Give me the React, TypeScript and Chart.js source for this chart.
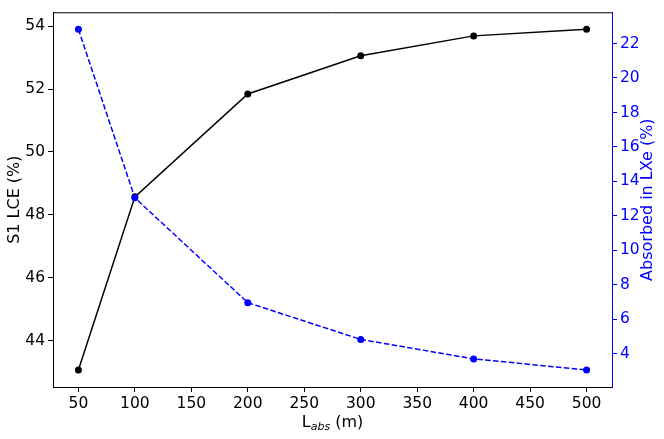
import { useEffect, useRef } from 'react';
import { Chart, registerables } from 'chart.js';

Chart.register(...registerables);

// absorption length in metres
const lengths = [50, 100, 200, 300, 400, 500];
// S1 light collection efficiency (%)
const lceValues = [43.06, 48.57, 51.84, 53.06, 53.69, 53.9];
// fraction absorbed in LXe (%)
const absorbedValues = [22.82, 13.05, 6.97, 4.84, 3.71, 3.07];

const xTicks = [50, 100, 150, 200, 250, 300, 350, 400, 450, 500];
const leftTicks = [44, 46, 48, 50, 52, 54];
const rightTicks = [4, 6, 8, 10, 12, 14, 16, 18, 20, 22];

const FONT = 'DejaVu Sans';
const BLUE = '#0000ff';
const TICK_SIZE = 15.5;
const TITLE_SIZE = 16;

// matplotlib-like axis labels (x label has a subscript) and the top spine
const axisTitles = {
  id: 'axisTitles',
  afterDraw(chart: Chart) {
    const { ctx, chartArea } = chart;
    const midY = (chartArea.top + chartArea.bottom) / 2;
    ctx.save();

    ctx.strokeStyle = '#000';
    ctx.lineWidth = 1;
    ctx.beginPath();
    ctx.moveTo(chartArea.left, chartArea.top + 0.5);
    ctx.lineTo(chartArea.right, chartArea.top + 0.5);
    ctx.stroke();

    ctx.textBaseline = 'middle';
    ctx.textAlign = 'center';

    // left title
    ctx.save();
    ctx.translate(15, midY);
    ctx.rotate(-Math.PI / 2);
    ctx.fillStyle = '#000';
    ctx.font = `${TITLE_SIZE}px "${FONT}"`;
    ctx.fillText('S1 LCE (%)', 0, 0);
    ctx.restore();

    // right title
    ctx.save();
    ctx.translate(648, midY);
    ctx.rotate(-Math.PI / 2);
    ctx.fillStyle = BLUE;
    ctx.font = `${TITLE_SIZE}px "${FONT}"`;
    ctx.fillText('Absorbed in LXe (%)', 0, 0);
    ctx.restore();

    // x title: L_abs (m)
    ctx.fillStyle = '#000';
    ctx.textAlign = 'left';
    ctx.textBaseline = 'alphabetic';
    const big = `${TITLE_SIZE}px "${FONT}"`;
    const small = `italic 11px "${FONT}"`;
    ctx.font = big;
    const wL = ctx.measureText('L').width;
    const wM = ctx.measureText(' (m)').width;
    ctx.font = small;
    const wS = ctx.measureText('abs').width;
    const total = wL + wS + wM;
    const cx = (chartArea.left + chartArea.right) / 2;
    let x = cx - total / 2;
    const base = 427;
    ctx.font = big;
    ctx.fillText('L', x, base);
    x += wL;
    ctx.font = small;
    ctx.fillText('abs', x, base + 3);
    x += wS;
    ctx.font = big;
    ctx.fillText(' (m)', x, base);

    ctx.restore();
  },
};

const App = () => {
  const canvasRef = useRef<HTMLCanvasElement>(null);
  const chartInstance = useRef<Chart | null>(null);

  useEffect(() => {
    document.body.style.margin = '0';
    if (!canvasRef.current) return;
    if (chartInstance.current) chartInstance.current.destroy();

    const ctx = canvasRef.current.getContext('2d');
    if (!ctx) return;

    chartInstance.current = new Chart(ctx, {
      type: 'line',
      data: {
        datasets: [
          {
            label: 'S1 LCE',
            data: lengths.map((l, i) => ({ x: l, y: lceValues[i] })),
            yAxisID: 'y',
            borderColor: '#000',
            backgroundColor: '#000',
            borderWidth: 1.5,
            pointRadius: 3.5,
            pointBorderWidth: 0,
            tension: 0,
            order: 2,
          },
          {
            label: 'Absorbed in LXe',
            data: lengths.map((l, i) => ({ x: l, y: absorbedValues[i] })),
            yAxisID: 'y1',
            borderColor: BLUE,
            backgroundColor: BLUE,
            borderWidth: 1.5,
            borderDash: [5.5, 2.4],
            pointRadius: 3.5,
            pointBorderWidth: 0,
            tension: 0,
            order: 1,
          },
        ],
      },
      options: {
        responsive: false,
        animation: false,
        devicePixelRatio: 1,
        layout: { padding: { top: 7, left: 0, right: 0, bottom: 0 } },
        plugins: {
          legend: { display: false },
          tooltip: { enabled: false },
        },
        scales: {
          x: {
            type: 'linear',
            min: 27.5,
            max: 522.5,
            afterBuildTicks: (scale) => {
              scale.ticks = xTicks.map((v) => ({ value: v }));
            },
            afterFit: (scale) => {
              scale.height = 52;
            },
            grid: { drawOnChartArea: false, drawTicks: true, tickLength: 5, color: '#000', tickWidth: 1 },
            border: { display: true, color: '#000', width: 1 },
            ticks: {
              color: '#000',
              font: { family: FONT, size: TICK_SIZE },
              padding: 3,
              maxRotation: 0,
            },
          },
          y: {
            type: 'linear',
            position: 'left',
            min: 42.52,
            max: 54.44,
            afterBuildTicks: (scale) => {
              scale.ticks = leftTicks.map((v) => ({ value: v }));
            },
            afterFit: (scale) => {
              scale.width = 53;
            },
            grid: { drawOnChartArea: false, drawTicks: true, tickLength: 5, color: '#000', tickWidth: 1 },
            border: { display: true, color: '#000', width: 1 },
            ticks: {
              color: '#000',
              font: { family: FONT, size: TICK_SIZE },
              padding: 3,
            },
          },
          y1: {
            type: 'linear',
            position: 'right',
            min: 2.08,
            max: 23.81,
            afterBuildTicks: (scale) => {
              scale.ticks = rightTicks.map((v) => ({ value: v }));
            },
            afterFit: (scale) => {
              scale.width = 52;
            },
            grid: { drawOnChartArea: false, drawTicks: true, tickLength: 5, color: BLUE, tickWidth: 1 },
            border: { display: true, color: BLUE, width: 1 },
            ticks: {
              color: BLUE,
              font: { family: FONT, size: TICK_SIZE },
              padding: 3,
            },
          },
        },
      },
      plugins: [axisTitles],
    });

    return () => {
      if (chartInstance.current) {
        chartInstance.current.destroy();
        chartInstance.current = null;
      }
    };
  }, []);

  return (
    <div style={{ width: 664, height: 439, background: '#fff' }}>
      <canvas ref={canvasRef} width={664} height={439} />
    </div>
  );
};

export default App;
